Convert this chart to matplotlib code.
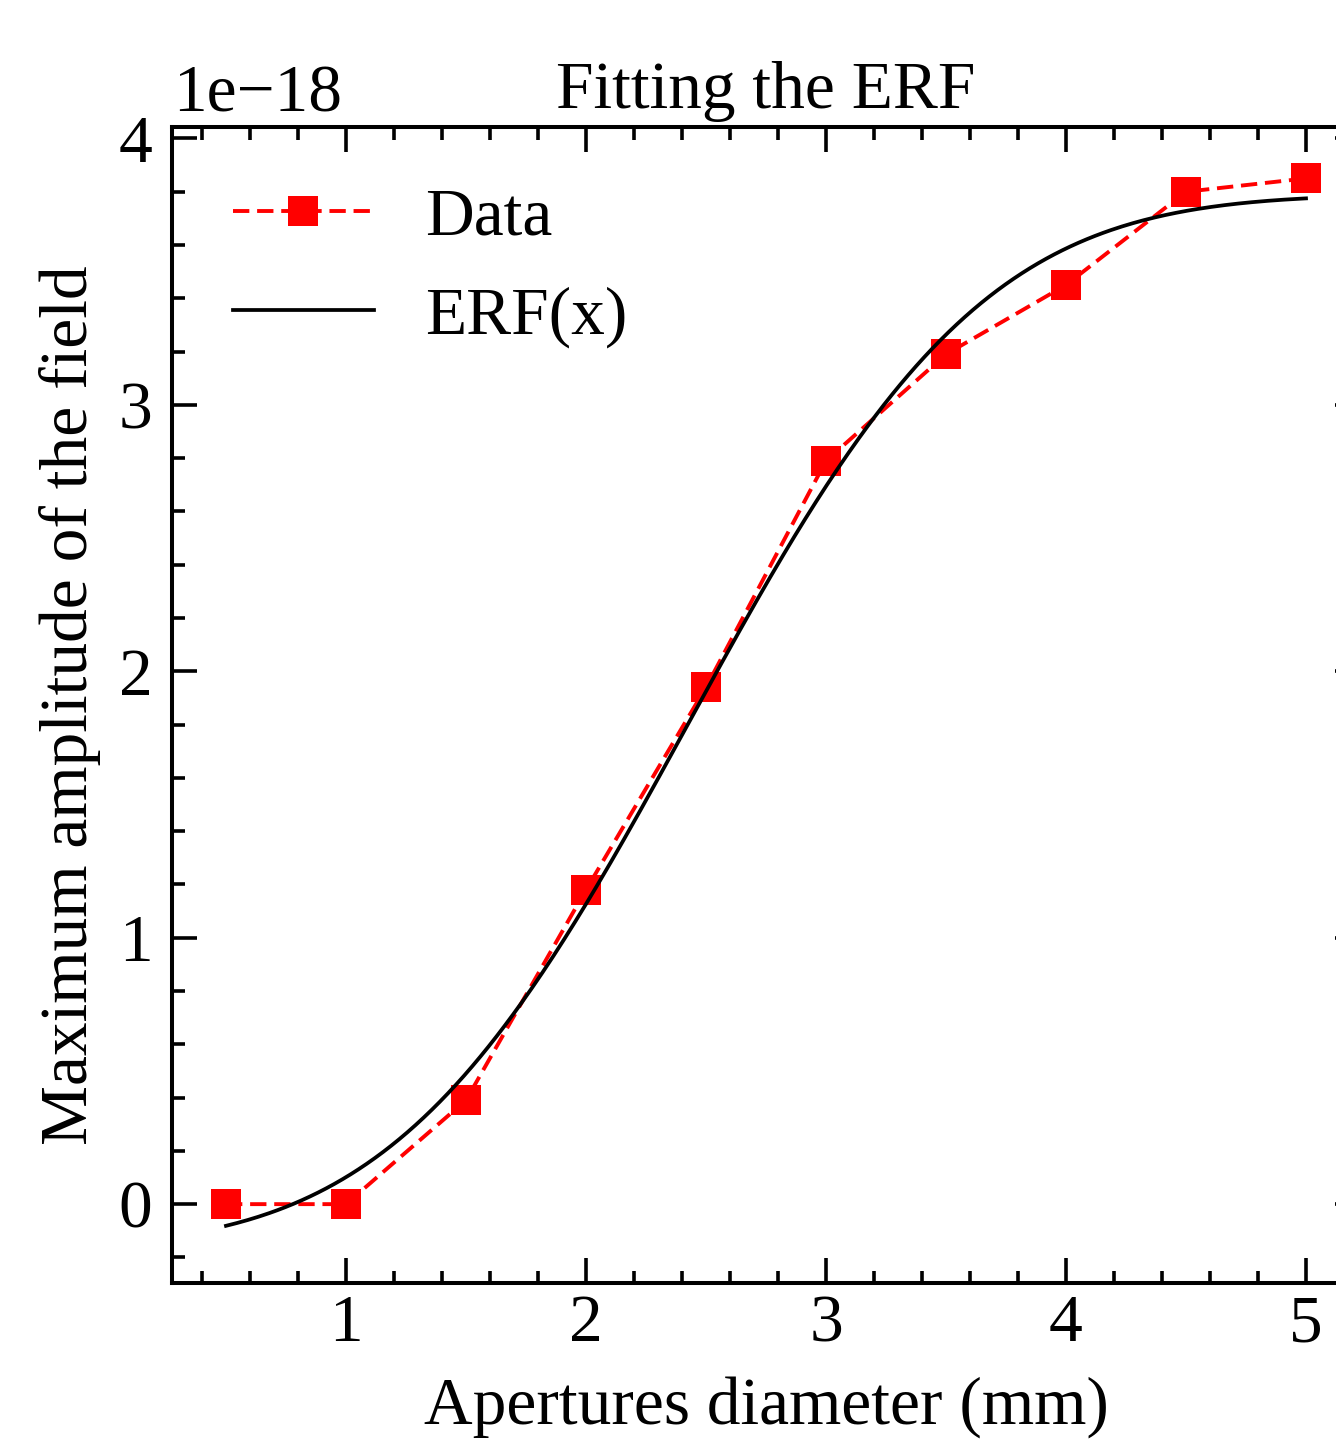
import math
import numpy as np
import matplotlib
matplotlib.use("Agg")
import matplotlib.pyplot as plt
from matplotlib.ticker import MultipleLocator, FixedLocator, FixedFormatter

# ---- data ----
aperture_mm = [0.5, 1.0, 1.5, 2.0, 2.5, 3.0, 3.5, 4.0, 4.5, 5.0]
max_amplitude = [0.0, 0.0, 0.39e-18, 1.18e-18, 1.94e-18, 2.79e-18,
                 3.19e-18, 3.45e-18, 3.80e-18, 3.85e-18]

# ERF fit parameters: y = b + a * erf((x - c) / w)
erf_a = 1.98e-18
erf_b = 1.81e-18
erf_c = 2.43
erf_w = 1.36

x_ticks = [1, 2, 3, 4, 5]
x_tick_labels = ["1", "2", "3", "4", "5"]
y_ticks = [0, 1e-18, 2e-18, 3e-18, 4e-18]
y_tick_labels = ["0", "1", "2", "3", "4"]
offset_label = "1e\u221218"
title = "Fitting the ERF"
xlabel = "Apertures diameter (mm)"
ylabel = "Maximum amplitude of the field"
legend_labels = ["Data", "ERF(x)"]

# ---- style ----
plt.rcParams['font.family'] = ['Liberation Serif', 'DejaVu Serif']
FS = 48.5

fig = plt.figure(figsize=(13.36, 14.39), dpi=100)
ax = fig.add_axes([172 / 1336, 1 - 1283 / 1439, (1360 - 172) / 1336, (1283 - 127) / 1439])

x_fit = np.linspace(aperture_mm[0], aperture_mm[-1], 400)
y_fit = erf_b + erf_a * np.array([math.erf((v - erf_c) / erf_w) for v in x_fit])

ax.plot(aperture_mm, max_amplitude, color='red', linestyle='--', dashes=(4.2, 2.0),
        linewidth=2.8, marker='s', markersize=21, markeredgewidth=0,
        label=legend_labels[0])
ax.plot(x_fit, y_fit, color='black', linewidth=2.7, label=legend_labels[1])

ax.set_xlim(0.275, 5.225)
ax.set_ylim(-0.296e-18, 4.043e-18)

ax.xaxis.set_major_locator(FixedLocator(x_ticks))
ax.xaxis.set_major_formatter(FixedFormatter(x_tick_labels))
ax.xaxis.set_minor_locator(MultipleLocator(0.2))
ax.yaxis.set_major_locator(FixedLocator(y_ticks))
ax.yaxis.set_major_formatter(FixedFormatter(y_tick_labels))
ax.yaxis.set_minor_locator(MultipleLocator(0.2e-18))

for s in ax.spines.values():
    s.set_linewidth(2.9)
ax.tick_params(which='both', direction='in', top=True, right=True, width=2.6,
               labelsize=FS)
ax.tick_params(which='major', length=18)
ax.tick_params(which='minor', length=9)
ax.tick_params(axis='x', which='major', pad=8)
ax.tick_params(axis='y', which='major', pad=14)

# scale (offset) label at the top-left corner of the axes
ax.annotate(offset_label, xy=(0, 1), xycoords='axes fraction',
            xytext=(1, 1), textcoords='offset points',
            ha='left', va='bottom', fontsize=FS)

ax.set_title(title, fontsize=FS, pad=14)
ax.set_xlabel(xlabel, fontsize=FS, labelpad=15)
ax.set_ylabel(ylabel, fontsize=FS, labelpad=13)

leg = ax.legend(loc='upper left', frameon=False, fontsize=FS, handlelength=2.1,
                handletextpad=0.75, labelspacing=0.56)

fig.savefig("out.png", dpi=100)
